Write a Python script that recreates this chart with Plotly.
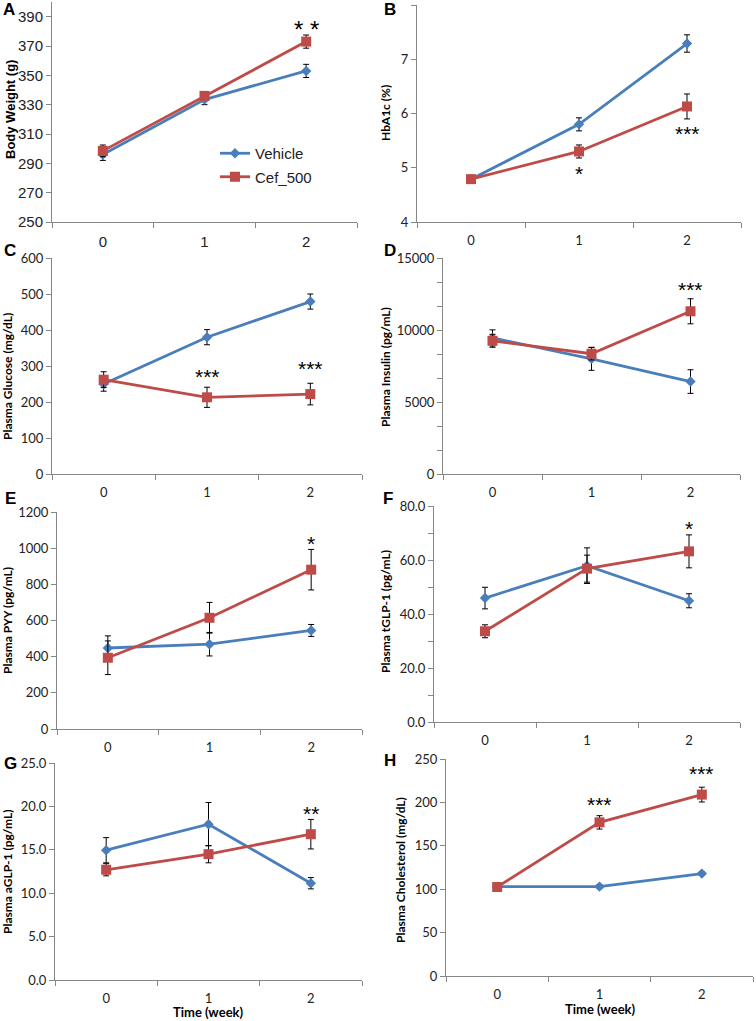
import plotly.graph_objects as go

W, H = 756, 1021
weeks = [0, 1, 2]
week_labels = ["0", "1", "2"]
series_names = ["Vehicle", "Cef_500"]

# A: Body weight (g)
bw_vehicle = [296, 333.5, 353]
bw_vehicle_err = [4, 3.5, 4.5]
bw_cef = [298.5, 336, 373]
bw_cef_err = [4, 2, 4.5]

# B: HbA1c (%)
hba1c_vehicle = [4.79, 5.80, 7.29]
hba1c_vehicle_err = [0.03, 0.12, 0.16]
hba1c_cef = [4.79, 5.30, 6.13]
hba1c_cef_err = [0.03, 0.12, 0.23]

# C: Plasma glucose (mg/dL)
glu_vehicle = [250, 380, 479]
glu_vehicle_err = [20, 21, 21]
glu_cef = [262, 213, 222]
glu_cef_err = [22, 28, 30]

# D: Plasma insulin (pg/mL)
ins_vehicle = [9450, 8000, 6420]
ins_vehicle_err = [560, 800, 820]
ins_cef = [9250, 8350, 11300]
ins_cef_err = [450, 430, 870]

# E: Plasma PYY (pg/mL)
pyy_vehicle = [448, 469, 545]
pyy_vehicle_err = [67, 65, 33]
pyy_cef = [394, 615, 881]
pyy_cef_err = [93, 85, 112]

# F: Plasma tGLP-1 (pg/mL)
tglp_vehicle = [45.9, 57.9, 44.9]
tglp_vehicle_err = [4.0, 6.6, 2.6]
tglp_cef = [33.6, 56.8, 63.2]
tglp_cef_err = [2.4, 5.0, 6.1]

# G: Plasma aGLP-1 (pg/mL)
aglp_vehicle = [14.95, 17.95, 11.15]
aglp_vehicle_err = [1.45, 2.5, 0.65]
aglp_cef = [12.7, 14.5, 16.8]
aglp_cef_err = [0.7, 1.0, 1.7]

# H: Plasma cholesterol (mg/dL)
chol_vehicle = [103, 103, 118]
chol_vehicle_err = [2, 2, 2]
chol_cef = [102.5, 177, 209]
chol_cef_err = [2, 7.7, 8.5]

# significance marks: (week, y, text)
sig_A = [(2, 385, "* *")]
sig_B = [(1, 4.98, "*"), (2, 5.73, "***")]
sig_C = [(1, 285, "***"), (2, 306, "***")]
sig_D = [(2, 13150, "***")]
sig_E = [(2, 1056, "*")]
sig_F = [(2, 73.4, "*")]
sig_G = [(2, 19.75, "**")]
sig_H = [(1, 203, "***"), (2, 239.5, "***")]

BLUE = "#4A7EBB"
RED = "#BE4B48"
AXIS = "#868686"
CAL = "Lato, Carlito, sans-serif"
ARIAL = "Liberation Sans, Arial, sans-serif"

panels = [
    dict(letter="A", title="Body Weight (g)", v=bw_vehicle, ve=bw_vehicle_err, c=bw_cef, ce=bw_cef_err,
         rng=[250, 400], tick0=250, dtick=20, fmt="d", minor=None, sig=sig_A,
         box=(52, 357, 2, 222), tfont=ARIAL, tsize=15, titlex=10, titley=110, titlesize=13,
         letterxy=(1, 10), sigsize=24),
    dict(letter="B", title="HbA1c (%)", v=hba1c_vehicle, ve=hba1c_vehicle_err, c=hba1c_cef, ce=hba1c_cef_err,
         rng=[4, 8], tick0=4, dtick=1, fmt="d", minor=None, sig=sig_B,
         box=(417, 741, 5, 222), tfont=CAL, tsize=13, titlex=386, titley=113, titlesize=12,
         letterxy=(382, 10), sigsize=21),
    dict(letter="C", title="Plasma Glucose (mg/dL)", v=glu_vehicle, ve=glu_vehicle_err, c=glu_cef, ce=glu_cef_err,
         rng=[0, 600], tick0=0, dtick=100, fmt="d", minor=None, sig=sig_C,
         box=(52, 362, 258, 474), tfont=CAL, tsize=13, titlex=7, titley=377, titlesize=12,
         letterxy=(2, 250), sigsize=21),
    dict(letter="D", title="Plasma Insulin (pg/mL)", v=ins_vehicle, ve=ins_vehicle_err, c=ins_cef, ce=ins_cef_err,
         rng=[0, 15000], tick0=0, dtick=5000, fmt="d", minor=5000 / 3, sig=sig_D,
         box=(443, 740, 258, 474), tfont=CAL, tsize=13, titlex=385, titley=367, titlesize=12,
         letterxy=(382, 250), sigsize=21),
    dict(letter="E", title="Plasma PYY (pg/mL)", v=pyy_vehicle, ve=pyy_vehicle_err, c=pyy_cef, ce=pyy_cef_err,
         rng=[0, 1200], tick0=0, dtick=200, fmt="d", minor=None, sig=sig_E,
         box=(57, 362, 512, 729), tfont=CAL, tsize=13, titlex=7, titley=621, titlesize=12,
         letterxy=(3, 498), sigsize=21),
    dict(letter="F", title="Plasma tGLP-1 (pg/mL)", v=tglp_vehicle, ve=tglp_vehicle_err, c=tglp_cef, ce=tglp_cef_err,
         rng=[0, 80], tick0=0, dtick=20, fmt=".1f", minor=10, sig=sig_F,
         box=(434, 740, 506, 722), tfont=CAL, tsize=13, titlex=385, titley=612, titlesize=12,
         letterxy=(381, 498), sigsize=21),
    dict(letter="G", title="Plasma aGLP-1 (pg/mL)", v=aglp_vehicle, ve=aglp_vehicle_err, c=aglp_cef, ce=aglp_cef_err,
         rng=[0, 25], tick0=0, dtick=5, fmt=".1f", minor=None, sig=sig_G,
         box=(55, 362, 763, 980), tfont=CAL, tsize=13, titlex=7, titley=872, titlesize=12,
         letterxy=(2, 763), sigsize=21),
    dict(letter="H", title="Plasma Cholesterol (mg/dL)", v=chol_vehicle, ve=chol_vehicle_err, c=chol_cef, ce=chol_cef_err,
         rng=[0, 250], tick0=0, dtick=50, fmt="d", minor=None, sig=sig_H,
         box=(446, 753, 759, 976), tfont=CAL, tsize=13, titlex=400, titley=870, titlesize=12,
         letterxy=(382, 760), sigsize=21),
]

fig = go.Figure()
annotations = []
layout = {}

for i, p in enumerate(panels):
    n = "" if i == 0 else str(i + 1)
    xa, ya = "x" + n, "y" + n
    x0, x1, y0, y1 = p["box"]
    for name, vals, errs, color, sym, size in [
        (series_names[0], p["v"], p["ve"], BLUE, "diamond", 8),
        (series_names[1], p["c"], p["ce"], RED, "square", 10),
    ]:
        fig.add_trace(go.Scatter(
            x=weeks, y=vals, name=name, mode="lines+markers",
            xaxis=xa, yaxis=ya, legendgroup=name, showlegend=(i == 0),
            line=dict(color=color, width=2.8),
            marker=dict(symbol=sym, size=size, color=color),
            error_y=dict(type="data", array=errs, visible=True, color="black", thickness=1, width=3),
            cliponaxis=False,
        ))
    layout["xaxis" + n] = dict(
        domain=[x0 / W, x1 / W], anchor=ya, range=[-0.5, 2.5], automargin=False,
        tickmode="array", tickvals=weeks, ticktext=week_labels,
        ticks="outside", ticklen=6, tickcolor="rgba(0,0,0,0)",
        minor=dict(tickmode="array", tickvals=[-0.5, 0.5, 1.5, 2.5], ticks="outside",
                   ticklen=5, tickcolor=AXIS, tickwidth=1),
        showline=True, linecolor=AXIS, linewidth=1, showgrid=False, zeroline=False,
        tickfont=dict(family=p["tfont"], size=p["tsize"], color="#222"),
        fixedrange=True,
    )
    yax = dict(
        domain=[1 - y1 / H, 1 - y0 / H], anchor=xa, range=p["rng"], automargin=False,
        tick0=p["tick0"], dtick=p["dtick"], tickformat=p["fmt"],
        ticks="outside", ticklen=5, tickcolor=AXIS, tickwidth=1,
        showline=True, linecolor=AXIS, linewidth=1, showgrid=False, zeroline=False,
        tickfont=dict(family=p["tfont"], size=p["tsize"], color="#222"),
        fixedrange=True,
    )
    if p["minor"]:
        yax["minor"] = dict(tick0=0, dtick=p["minor"], ticks="outside", ticklen=5,
                            tickcolor=AXIS, tickwidth=1, showgrid=False)
    layout["yaxis" + n] = yax

    # y-axis title
    annotations.append(dict(
        text="<b>%s</b>" % p["title"], xref="paper", yref="paper",
        x=p["titlex"] / W, y=1 - p["titley"] / H, textangle=-90,
        showarrow=False, xanchor="center", yanchor="middle",
        font=dict(family=("Liberation Sans" if i == 0 else CAL), size=p["titlesize"], color="black"),
    ))
    # panel letter
    lx, ly = p["letterxy"]
    annotations.append(dict(
        text="<b>%s</b>" % p["letter"], xref="paper", yref="paper",
        x=lx / W, y=1 - ly / H, showarrow=False, xanchor="left", yanchor="middle",
        font=dict(family=ARIAL, size=17, color="black"),
    ))
    # significance marks
    for (wx, wy, txt) in p["sig"]:
        annotations.append(dict(
            text=txt, xref=xa, yref=ya, x=wx, y=wy, showarrow=False,
            xanchor="center", yanchor="middle", yshift=-5,
            font=dict(family=ARIAL, size=p["sigsize"], color="black"),
        ))

# x-axis titles for bottom panels
for cx, cy in [(208, 1012), (600, 1009)]:
    annotations.append(dict(
        text="<b>Time (week)</b>", xref="paper", yref="paper", x=cx / W, y=1 - cy / H,
        showarrow=False, xanchor="center", yanchor="middle",
        font=dict(family=CAL, size=13, color="black"),
    ))

fig.update_layout(
    width=W, height=H, margin=dict(l=0, r=0, t=0, b=0, pad=0, autoexpand=False),
    paper_bgcolor="white", plot_bgcolor="white",
    annotations=annotations,
    showlegend=True,
    legend=dict(x=215 / W, y=1 - 137 / H, xanchor="left", yanchor="top",
                font=dict(family=ARIAL, size=15, color="#222"),
                bgcolor="rgba(0,0,0,0)", tracegroupgap=1, itemwidth=30),
    **layout,
)

fig.write_html("out.html", config={"displayModeBar": False},
               post_script="document.body.style.margin='0px';document.body.style.overflow='hidden';")
